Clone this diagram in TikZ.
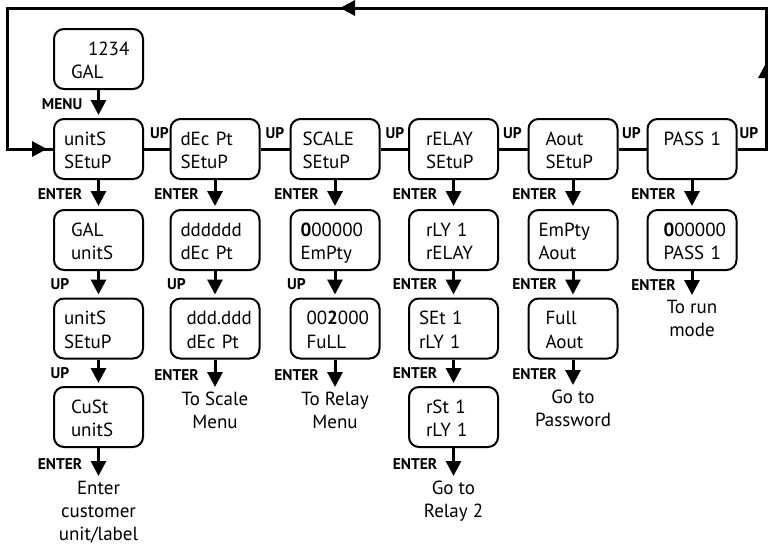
\documentclass[tikz,border=0pt]{standalone}
\usepackage{fontspec}
\setmainfont{PT Sans}
\usetikzlibrary{arrows.meta,positioning,calc}
\newcommand\dispfont{\fontsize{19}{23.5}\selectfont}
\newcommand\lblfont{\bfseries\fontsize{15.5}{18}\selectfont}
\newcommand\notefont{\fontsize{19}{23}\selectfont}
\tikzset{
  disp/.style={draw, line width=2pt, rounded corners=10pt, minimum width=89pt,
    minimum height=60pt, align=left, inner ysep=0pt, text height=14pt,
    text depth=22pt, font=\dispfont},
  i10/.style={inner xsep=10pt, text width=69pt},
  i12/.style={inner xsep=12pt, text width=65pt},
  i16/.style={inner xsep=16pt, text width=57pt},
  i17/.style={inner xsep=17pt, text width=55pt},
  lbl/.style={font=\lblfont, inner sep=0pt},
  note/.style={font=\notefont, align=center, inner sep=0pt},
  wire/.style={line width=3pt},
  arr/.style={line width=3pt, -{Triangle[length=15pt,width=15pt]}},
  boxarr/.style={arr, shorten >=3pt},
}
\begin{document}
\begin{tikzpicture}[x=1pt,y=-1pt]
\useasboundingbox (0,0) rectangle (768,546);
% boxes
\node[disp,i17] (g0) at (98.5,59) {\hspace*{17pt}1234\\GAL};
\node[disp,i10] (b1) at (98.5,149) {unitS\\SEtuP};
\node[disp,i10] (c1) at (215,149) {dEc~Pt\\SEtuP};
\node[disp,i12] (d1) at (335,149) {SCALE\\SEtuP};
\node[disp,i17] (e1) at (453.5,149) {rELAY\\SEtuP};
\node[disp,i17] (f1) at (573,149) {Aout\\SEtuP};
\node[disp,i16] (h1) at (692,149) {PASS~1};
\node[disp,i17] (b2) at (98.5,240) {GAL\\unitS};
\node[disp,i10] (c2) at (215,240) {dddddd\\dEc~Pt};
\node[disp,i10] (d2) at (335,240) {\textbf{0}00000\\EmPty};
\node[disp,i17] (e2) at (453.5,240) {rLY~1\\rELAY};
\node[disp,i10] (f2) at (573,240) {EmPty\\Aout};
\node[disp,i16] (h2) at (692,240) {\textbf{0}00000\\PASS~1};
\node[disp,i10] (b3) at (98.5,328.5) {unitS\\SEtuP};
\node[disp,i16] (c3) at (215,328.5) {ddd.ddd\\dEc~Pt};
\node[disp,i16] (d3) at (335,328.5) {00\textbf{2}000\\FuLL};
\node[disp,i10] (e3) at (453.5,328.5) {SEt~1\\rLY~1};
\node[disp,i17] (f3) at (573,328.5) {Full\\Aout};
\node[disp,i17] (b4) at (98.5,417) {CuSt\\unitS};
\node[disp,i17] (e4) at (453.5,417) {rSt~1\\rLY~1};
% arrow tips toward texts
\coordinate (tb) at (98.5,476);
\coordinate (tc) at (215,387);
\coordinate (td) at (335,387);
\coordinate (te) at (453.5,476);
\coordinate (tf) at (573,385);
\coordinate (th) at (692,295);
% end texts
\node[note, below=5pt of tb] (nb) {Enter\\customer\\unit/label};
\node[note, below=5pt of tc] (nc) {To Scale\\Menu};
\node[note, below=5pt of td] (nd) {To Relay\\Menu};
\node[note, below=5pt of te] (ne) {Go to\\Relay 2};
\node[note, below=5pt of tf] (nf) {Go to\\Password};
\node[note, below=5pt of th] (nh) {To run\\mode};
% row connectors
\draw[wire] (b1.east) -- (c1.west);
\draw[wire] (c1.east) -- (d1.west);
\draw[wire] (d1.east) -- (e1.west);
\draw[wire] (e1.east) -- (f1.west);
\draw[wire] (f1.east) -- (h1.west);
\node[lbl] (u1) at (159.5,133) {UP};
\node[lbl] (u2) at (275,133) {UP};
\node[lbl] (u3) at (395,133) {UP};
\node[lbl] (u4) at (512.5,133) {UP};
\node[lbl] (u5) at (631.5,133) {UP};
\node[lbl] (u6) at (749,133) {UP};
% return loop
\coordinate (cR) at (766,149);
\coordinate (cRT) at (766,8);
\coordinate (cLT) at (7,8);
\coordinate (cL) at (7,149);
\draw[wire] (h1.east) -- (cR) -- (cRT) -- (cLT) -- (cL) -- (b1.west);
\coordinate (aR0) at (766,90);
\coordinate (aR1) at (766,63);
\coordinate (aT0) at (360,8);
\coordinate (aT1) at (340,8);
\coordinate (aL1) at (47,149);
\draw[arr] (aR0) -- (aR1);
\draw[arr] (aT0) -- (aT1);
\draw[arr] (cL) -- (aL1);
% vertical arrows
\draw[boxarr] (g0.south) -- (b1.north);
\draw[boxarr] (b1.south) -- (b2.north);
\draw[boxarr] (b2.south) -- (b3.north);
\draw[boxarr] (b3.south) -- (b4.north);
\draw[arr] (b4.south) -- (tb);
\draw[boxarr] (c1.south) -- (c2.north);
\draw[boxarr] (c2.south) -- (c3.north);
\draw[arr] (c3.south) -- (tc);
\draw[boxarr] (d1.south) -- (d2.north);
\draw[boxarr] (d2.south) -- (d3.north);
\draw[arr] (d3.south) -- (td);
\draw[boxarr] (e1.south) -- (e2.north);
\draw[boxarr] (e2.south) -- (e3.north);
\draw[boxarr] (e3.south) -- (e4.north);
\draw[arr] (e4.south) -- (te);
\draw[boxarr] (f1.south) -- (f2.north);
\draw[boxarr] (f2.south) -- (f3.north);
\draw[arr] (f3.south) -- (tf);
\draw[boxarr] (h1.south) -- (h2.north);
\draw[arr] (h2.south) -- (th);
% labels on vertical arrows
\node[lbl, anchor=east] (lm) at ($(g0.south)!0.5!(b1.north)+(-16,0)$) {MENU};
\node[lbl, anchor=east] (lb1) at ($(b1.south)!0.5!(b2.north)+(-16,0)$) {ENTER};
\node[lbl] (lb2) at ($(b2.south)!0.5!(b3.north)+(-38.5,0)$) {UP};
\node[lbl] (lb3) at ($(b3.south)!0.5!(b4.north)+(-38.5,0)$) {UP};
\node[lbl, anchor=east] (lb4) at ($(b4.south)!0.5!(tb)+(-16,2)$) {ENTER};
\node[lbl, anchor=east] (lc1) at ($(c1.south)!0.5!(c2.north)+(-16,0)$) {ENTER};
\node[lbl] (lc2) at ($(c2.south)!0.5!(c3.north)+(-38.5,0)$) {UP};
\node[lbl, anchor=east] (lc3) at ($(c3.south)!0.5!(tc)+(-16,2)$) {ENTER};
\node[lbl, anchor=east] (ld1) at ($(d1.south)!0.5!(d2.north)+(-16,0)$) {ENTER};
\node[lbl] (ld2) at ($(d2.south)!0.5!(d3.north)+(-38.5,0)$) {UP};
\node[lbl, anchor=east] (ld3) at ($(d3.south)!0.5!(td)+(-16,2)$) {ENTER};
\node[lbl, anchor=east] (le1) at ($(e1.south)!0.5!(e2.north)+(-16,0)$) {ENTER};
\node[lbl, anchor=east] (le2) at ($(e2.south)!0.5!(e3.north)+(-16,0)$) {ENTER};
\node[lbl, anchor=east] (le3) at ($(e3.south)!0.5!(e4.north)+(-16,0)$) {ENTER};
\node[lbl, anchor=east] (le4) at ($(e4.south)!0.5!(te)+(-16,2)$) {ENTER};
\node[lbl, anchor=east] (lf1) at ($(f1.south)!0.5!(f2.north)+(-16,0)$) {ENTER};
\node[lbl, anchor=east] (lf2) at ($(f2.south)!0.5!(f3.north)+(-16,0)$) {ENTER};
\node[lbl, anchor=east] (lf3) at ($(f3.south)!0.5!(tf)+(-16,2)$) {ENTER};
\node[lbl, anchor=east] (lh1) at ($(h1.south)!0.5!(h2.north)+(-16,0)$) {ENTER};
\node[lbl, anchor=east] (lh2) at ($(h2.south)!0.5!(th)+(-16,2)$) {ENTER};
\end{tikzpicture}
\end{document}
